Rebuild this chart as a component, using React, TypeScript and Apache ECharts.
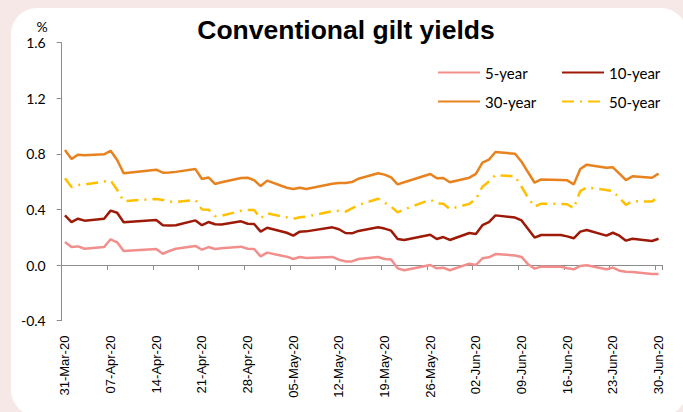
import React, { useEffect, useRef } from "react";
import * as echarts from "echarts";

const businessDays = [
  "31-Mar-20",
  "01-Apr-20", "02-Apr-20", "03-Apr-20", "06-Apr-20", "07-Apr-20", "08-Apr-20", "09-Apr-20",
  "14-Apr-20", "15-Apr-20", "16-Apr-20", "17-Apr-20", "20-Apr-20", "21-Apr-20", "22-Apr-20",
  "23-Apr-20", "24-Apr-20", "27-Apr-20", "28-Apr-20", "29-Apr-20", "30-Apr-20",
  "01-May-20", "04-May-20", "05-May-20", "06-May-20", "07-May-20", "11-May-20", "12-May-20",
  "13-May-20", "14-May-20", "15-May-20", "18-May-20", "19-May-20", "20-May-20", "21-May-20",
  "22-May-20", "26-May-20", "27-May-20", "28-May-20", "29-May-20",
  "01-Jun-20", "02-Jun-20", "03-Jun-20", "04-Jun-20", "05-Jun-20", "08-Jun-20", "09-Jun-20",
  "10-Jun-20", "11-Jun-20", "12-Jun-20", "15-Jun-20", "16-Jun-20", "17-Jun-20", "18-Jun-20",
  "19-Jun-20", "22-Jun-20", "23-Jun-20", "24-Jun-20", "25-Jun-20", "26-Jun-20", "29-Jun-20",
  "30-Jun-20",
];

const fiveYear = [
  0.165,
  0.129, 0.134, 0.117, 0.129, 0.185, 0.163, 0.101,
  0.115, 0.081, 0.101, 0.117, 0.137, 0.110, 0.129,
  0.115, 0.120, 0.132, 0.117, 0.115, 0.062,
  0.089, 0.060, 0.043, 0.058, 0.050, 0.058, 0.038,
  0.026, 0.026, 0.043, 0.058, 0.043, 0.040, -0.024,
  -0.038, 0.000, -0.024, -0.019, -0.038,
  0.010, 0.000, 0.048, 0.055, 0.079, 0.069, 0.058,
  0.005, -0.026, -0.012, -0.012, -0.024, -0.031, -0.007,
  -0.002, -0.031, -0.019, -0.041, -0.048, -0.050, -0.065,
  -0.065,
];

const tenYear = [
  0.357,
  0.309, 0.333, 0.319, 0.333, 0.391, 0.376, 0.307,
  0.324, 0.286, 0.284, 0.286, 0.321, 0.286, 0.309,
  0.293, 0.291, 0.314, 0.297, 0.295, 0.240,
  0.268, 0.232, 0.211, 0.240, 0.242, 0.271, 0.257,
  0.230, 0.228, 0.245, 0.271, 0.262, 0.247, 0.187,
  0.180, 0.218, 0.187, 0.201, 0.180,
  0.230, 0.223, 0.286, 0.309, 0.357, 0.341, 0.321,
  0.259, 0.197, 0.216, 0.216, 0.206, 0.192, 0.240,
  0.252, 0.211, 0.232, 0.211, 0.175, 0.189, 0.173,
  0.189,
];

const thirtyYear = [
  0.827,
  0.763, 0.794, 0.789, 0.796, 0.822, 0.755, 0.660,
  0.686, 0.664, 0.665, 0.670, 0.690, 0.619, 0.630,
  0.583, 0.595, 0.626, 0.628, 0.611, 0.568,
  0.607, 0.556, 0.547, 0.556, 0.547, 0.585, 0.590,
  0.590, 0.597, 0.621, 0.660, 0.650, 0.631, 0.580,
  0.595, 0.655, 0.624, 0.626, 0.595,
  0.628, 0.655, 0.736, 0.758, 0.813, 0.800, 0.743,
  0.667, 0.592, 0.616, 0.611, 0.609, 0.580, 0.690,
  0.722, 0.700, 0.703, 0.657, 0.611, 0.638, 0.628,
  0.657,
];

const fiftyYear = [
  0.624,
  0.561, 0.576, 0.580, 0.600, 0.609, 0.540, 0.460,
  0.475, 0.468, 0.456, 0.454, 0.468, 0.400, 0.398,
  0.352, 0.354, 0.390, 0.395, 0.395, 0.336,
  0.372, 0.343, 0.333, 0.343, 0.348, 0.388, 0.390,
  0.384, 0.408, 0.432, 0.477, 0.448, 0.420, 0.379,
  0.400, 0.470, 0.444, 0.440, 0.403,
  0.440, 0.475, 0.563, 0.600, 0.647, 0.638, 0.563,
  0.484, 0.420, 0.441, 0.440, 0.437, 0.408, 0.532,
  0.559, 0.540, 0.532, 0.484, 0.432, 0.460, 0.456,
  0.491,
];

const seriesNames = ["5-year", "10-year", "30-year", "50-year"];
const yTicks = { min: -0.4, max: 1.6, interval: 0.4 };

const MONTHS = ["Jan", "Feb", "Mar", "Apr", "May", "Jun", "Jul", "Aug", "Sep", "Oct", "Nov", "Dec"];

function buildCalendar(): string[] {
  const out: string[] = [];
  const d = new Date(2020, 2, 31);
  const end = new Date(2020, 5, 30);
  while (d.getTime() <= end.getTime()) {
    const dd = String(d.getDate()).padStart(2, "0");
    const yy = String(d.getFullYear()).slice(2);
    out.push(`${dd}-${MONTHS[d.getMonth()]}-${yy}`);
    d.setDate(d.getDate() + 1);
  }
  return out;
}

export default function App() {
  const ref = useRef<HTMLDivElement>(null);

  useEffect(() => {
    if (!ref.current) return;
    const chart = echarts.init(ref.current, undefined, { renderer: "svg" });
    const categories = buildCalendar();
    const toCal = (vals: number[]) =>
      categories.map((c) => {
        const i = businessDays.indexOf(c);
        return i >= 0 ? vals[i] : null;
      });

    const colors = ["#f28e8c", "#9e1a08", "#e8821e", "#ffc000"];
    const valueSets = [fiveYear, tenYear, thirtyYear, fiftyYear];
    const axisGray = "#8c8c8c";
    const legendFont = { fontFamily: "Lato", fontSize: 15, color: "#000" };

    const legendPos = [
      { left: 437, top: 65 },
      { left: 561, top: 65 },
      { left: 437, top: 94 },
      { left: 561, top: 94 },
    ];

    chart.setOption({
      animation: false,
      backgroundColor: "#f6e8e6",
      graphic: [
        {
          type: "rect",
          z: -10,
          shape: { x: 11, y: 8, width: 676, height: 408, r: 26 },
          style: { fill: "#ffffff" },
        },
        {
          type: "text",
          x: 346,
          y: 30,
          style: {
            text: "Conventional gilt yields",
            font: "bold 26.5px 'Liberation Sans', Arial, sans-serif",
            fill: "#000",
            textAlign: "center",
            textVerticalAlign: "middle",
          },
        },
        {
          type: "text",
          x: 42,
          y: 26,
          style: {
            text: "%",
            font: "14px Lato, sans-serif",
            fill: "#000",
            textAlign: "center",
            textVerticalAlign: "middle",
          },
        },
      ],
      legend: seriesNames.map((n, i) => ({
        data: [n],
        left: legendPos[i].left,
        top: legendPos[i].top,
        padding: 0,
        itemWidth: 42,
        itemHeight: 14,
        itemGap: 0,
        itemStyle: { opacity: 0 },
        textStyle: legendFont,
        selectedMode: false,
      })),
      grid: { left: 61.7, right: 21.2, top: 42.6, bottom: 91.4 },
      xAxis: [
        {
          type: "category",
          data: categories,
          boundaryGap: true,
          position: "bottom",
          axisLine: { show: false, onZero: false },
          axisTick: { show: false },
          axisLabel: {
            interval: 6,
            rotate: 90,
            margin: 15,
            fontFamily: "'Liberation Sans', Arial, sans-serif",
            fontSize: 13,
            color: "#000",
          },
          splitLine: { show: false },
        },
        {
          type: "category",
          data: categories,
          boundaryGap: true,
          position: "top",
          axisLine: { show: true, onZero: true, lineStyle: { color: axisGray, width: 1 } },
          axisTick: { show: true, inside: true, interval: 6, length: 5, lineStyle: { color: axisGray } },
          axisLabel: { show: false },
          splitLine: { show: false },
        },
      ],
      yAxis: {
        type: "value",
        min: yTicks.min,
        max: yTicks.max,
        interval: yTicks.interval,
        axisLine: { show: true, lineStyle: { color: axisGray, width: 1 } },
        axisTick: { show: true, length: 5, lineStyle: { color: axisGray } },
        splitLine: { show: false },
        axisLabel: {
          margin: 16,
          fontFamily: "Lato, sans-serif",
          fontSize: 14,
          color: "#000",
          formatter: (v: number) => v.toFixed(1),
        },
      },
      series: seriesNames.map((n, i) => ({
        name: n,
        type: "line",
        xAxisIndex: 0,
        data: toCal(valueSets[i]),
        connectNulls: true,
        symbol: "none",
        color: colors[i],
        lineStyle: {
          color: colors[i],
          width: 2.5,
          type: i === 3 ? [12, 6, 2, 6] : "solid",
        },
        z: 2 + i,
      })),
    });
    return () => chart.dispose();
  }, []);

  return (
    <div
      ref={ref}
      style={{ position: "fixed", left: 0, top: 0, width: 683, height: 412 }}
    />
  );
}
